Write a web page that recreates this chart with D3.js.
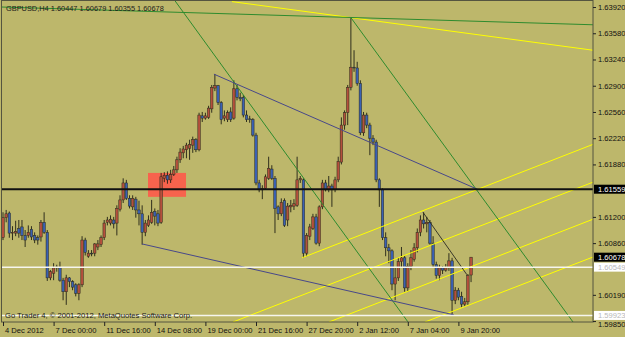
<!DOCTYPE html>
<html>
<head>
<meta charset="utf-8">
<script src="https://cdn.jsdelivr.net/npm/d3@7"></script>
<style>
html, body { margin: 0; padding: 0; background: #BDB76B; }
svg { display: block; }
</style>
</head>
<body>
<svg id="chart" width="625" height="337"></svg>
<script>
'use strict';

// GBPUSD H4, bar 0 = 4 Dec 2012 08:00
const opens = [
  1.6093,1.6119,1.6125,1.6099,1.6099,1.6105,1.6107,1.6096,1.6096,1.6104,
  1.6096,1.6093,1.6094,1.6113,1.6100,1.6041,1.6047,1.6054,1.6054,1.6038,
  1.6023,1.6041,1.6036,1.6032,1.6021,1.6032,1.6090,1.6069,1.6073,1.6073,
  1.6081,1.6084,1.6093,1.6113,1.6112,1.6116,1.6112,1.6130,1.6142,1.6164,
  1.6144,1.6133,1.6143,1.6129,1.6124,1.6100,1.6109,1.6113,1.6127,1.6124,
  1.6113,1.6170,1.6174,1.6168,1.6175,1.6181,1.6194,1.6203,1.6207,1.6209,
  1.6213,1.6220,1.6207,1.6251,1.6248,1.6249,1.6260,1.6287,1.6290,1.6268,
  1.6248,1.6246,1.6256,1.6248,1.6286,1.6275,1.6275,1.6252,1.6247,1.6246,
  1.6226,1.6164,1.6155,1.6157,1.6170,1.6182,1.6170,1.6133,1.6124,1.6141,
  1.6116,1.6133,1.6134,1.6135,1.6168,1.6168,1.6073,1.6095,1.6105,1.6120,
  1.6086,1.6133,1.6164,1.6155,1.6160,1.6155,1.6168,1.6191,1.6239,1.6255,
  1.6288,1.6314,1.6313,1.6293,1.6229,1.6252,1.6239,1.6222,1.6217,1.6168,
  1.6155,1.6093,1.6080,1.6076,1.6033,1.6041,1.6062,1.6067,1.6028,1.6056,
  1.6065,1.6080,1.6100,1.6116,1.6111,1.6113,1.6086,1.6058,1.6044,1.6054,
  1.6051,1.6054,1.6063,1.6012,1.6025,1.6017,1.6007,1.6010,1.60447
];
const highs = [
  1.6126,1.6129,1.6127,1.6108,1.6115,1.6116,1.6116,1.6103,1.6109,1.6108,
  1.6100,1.6096,1.6116,1.6126,1.6103,1.6051,1.6060,1.6058,1.6062,1.6041,
  1.6045,1.6042,1.6038,1.6034,1.6034,1.6095,1.6093,1.6077,1.6077,1.6086,
  1.6090,1.6096,1.6116,1.6120,1.6122,1.6120,1.6135,1.6148,1.6170,1.6168,
  1.6148,1.6148,1.6146,1.6141,1.6135,1.6116,1.6122,1.6142,1.6131,1.6129,
  1.6177,1.6178,1.6179,1.6181,1.6186,1.6198,1.6209,1.6212,1.6216,1.6220,
  1.6224,1.6222,1.6255,1.6256,1.6255,1.6264,1.6291,1.6305,1.6291,1.6270,
  1.6258,1.6258,1.6262,1.6297,1.6291,1.6281,1.6278,1.6258,1.6251,1.6248,
  1.6229,1.6168,1.6161,1.6175,1.6198,1.6187,1.6173,1.6135,1.6144,1.6144,
  1.6138,1.6142,1.6143,1.6198,1.6173,1.6170,1.6099,1.6111,1.6124,1.6124,
  1.6135,1.6168,1.6168,1.6173,1.6163,1.6172,1.6198,1.6249,1.6258,1.6291,
  1.6378,1.6336,1.6321,1.6297,1.6256,1.6255,1.6242,1.6226,1.6220,1.6170,
  1.6157,1.6100,1.6085,1.6078,1.6054,1.6067,1.6081,1.6070,1.6060,1.6077,
  1.6086,1.6105,1.6122,1.6126,1.6120,1.6116,1.6095,1.6062,1.6058,1.6056,
  1.6059,1.6073,1.6067,1.6029,1.6028,1.6023,1.6015,1.6046,1.60679
];
const lows = [
  1.6090,1.6113,1.6093,1.6090,1.6095,1.6093,1.6090,1.6081,1.6093,1.6090,
  1.6086,1.6084,1.6088,1.6098,1.6037,1.6038,1.6038,1.6049,1.6036,1.6012,
  1.6006,1.6029,1.6025,1.6017,1.6012,1.6029,1.6070,1.6067,1.6069,1.6069,
  1.6077,1.6081,1.6090,1.6109,1.6109,1.6105,1.6096,1.6127,1.6138,1.6142,
  1.6131,1.6129,1.6119,1.6109,1.6084,1.6095,1.6107,1.6111,1.6109,1.6108,
  1.6111,1.6165,1.6163,1.6164,1.6173,1.6177,1.6190,1.6196,1.6196,1.6194,
  1.6203,1.6204,1.6205,1.6243,1.6246,1.6247,1.6255,1.6283,1.6265,1.6240,
  1.6244,1.6243,1.6243,1.6246,1.6271,1.6270,1.6249,1.6243,1.6242,1.6224,
  1.6161,1.6152,1.6143,1.6155,1.6168,1.6168,1.6099,1.6116,1.6121,1.6107,
  1.6108,1.6126,1.6129,1.6133,1.6164,1.6067,1.6069,1.6090,1.6103,1.6084,
  1.6082,1.6130,1.6153,1.6152,1.6133,1.6152,1.6165,1.6188,1.6233,1.6239,
  1.6284,1.6308,1.6290,1.6226,1.6225,1.6235,1.6200,1.6213,1.6165,1.6133,
  1.6090,1.6069,1.6060,1.6025,1.6012,1.6037,1.6054,1.6023,1.6023,1.6051,
  1.6062,1.6074,1.6095,1.6105,1.6100,1.6084,1.6054,1.6040,1.6038,1.6046,
  1.6049,1.6050,1.59923,1.6007,1.6012,1.6003,1.6004,1.6006,1.60355
];
const closes = [
  1.6119,1.6124,1.6099,1.6100,1.6101,1.6099,1.6096,1.6090,1.6100,1.6094,
  1.6090,1.6090,1.6113,1.6100,1.6041,1.6049,1.6054,1.6055,1.6038,1.6023,
  1.6041,1.6036,1.6029,1.6021,1.6032,1.6090,1.6074,1.6073,1.6072,1.6085,
  1.6085,1.6093,1.6112,1.6116,1.6117,1.6111,1.6131,1.6142,1.6164,1.6144,
  1.6134,1.6144,1.6129,1.6124,1.6100,1.6112,1.6116,1.6126,1.6121,1.6112,
  1.6172,1.6174,1.6168,1.6175,1.6181,1.6194,1.6204,1.6208,1.6213,1.6214,
  1.6220,1.6207,1.6252,1.6248,1.6251,1.6261,1.6288,1.6290,1.6268,1.6246,
  1.6251,1.6255,1.6246,1.6286,1.6275,1.6273,1.6252,1.6246,1.6246,1.6226,
  1.6164,1.6155,1.6157,1.6172,1.6183,1.6170,1.6131,1.6124,1.6139,1.6109,
  1.6134,1.6135,1.6137,1.6168,1.6170,1.6073,1.6096,1.6107,1.6120,1.6086,
  1.6133,1.6164,1.6155,1.6160,1.6155,1.6168,1.6192,1.6239,1.6255,1.6288,
  1.6314,1.6313,1.6293,1.6229,1.6252,1.6239,1.6222,1.6217,1.6168,1.6155,
  1.6093,1.6080,1.6076,1.6033,1.6041,1.6062,1.6067,1.6028,1.6056,1.6067,
  1.6080,1.6100,1.6116,1.6111,1.6113,1.6086,1.6058,1.6044,1.6054,1.6051,
  1.6054,1.6063,1.6012,1.6025,1.6016,1.6007,1.6010,1.6044,1.60678
];

// time axis: bar index of each label and its text
const timeTicks = [0, 16, 32, 48, 64, 80, 96, 112, 128, 144];
const timeLabels = ['4 Dec 2012', '7 Dec 00:00', '11 Dec 16:00', '14 Dec 08:00', '19 Dec 00:00',
  '21 Dec 16:00', '27 Dec 20:00', '2 Jan 12:00', '7 Jan 04:00', '9 Jan 20:00'];
const priceTicks = [1.6392, 1.6358, 1.6324, 1.6290, 1.6256, 1.6222, 1.6188, 1.6120, 1.6086, 1.6019, 1.5985];

// objects drawn on the chart, as [bar, price] anchors
const levelBlack = 1.61559;
const levelsWhite = [1.60549, 1.59923];
const zone = [[45.85, 1.6177], [57.87, 1.6146]];
const greenLines = [
  [[-0.32, 1.6392], [186.56, 1.6369]],
  [[54.4, 1.6400], [128.06, 1.59838]],
  [[110.04, 1.6378], [180.24, 1.59838]]
];
const yellowLines = [
  [[72.4, 1.6399], [186.56, 1.6336]],
  [[94.55, 1.6067], [186.56, 1.6214]],
  [[72.73, 1.59838], [186.56, 1.6165]],
  [[103.08, 1.59838], [186.56, 1.6117]],
  [[133.44, 1.59838], [186.56, 1.6068]]
];
const blueLines = [
  [[66.7, 1.6305], [149.9, 1.6156]],
  [[43.95, 1.6085], [142.6, 1.59930]]
];
const blackLines = [
  [[132.8, 1.6126], [146.7, 1.6045]]
];

const bars = opens.map((o, i) => ({i: i, o: o, h: highs[i], l: lows[i], c: closes[i]}));
const lastPrice = closes[closes.length - 1];

let plotL = 2, plotR = 593, plotT = 1, plotB = 322;
let x = d3.scaleLinear().domain([0, 186.56]).range([3, plotR]);
let y = d3.scaleLinear().domain([1.59838, 1.63998]).range([plotB, plotT]);

let svg = d3.select('#chart');
let font = '"Liberation Sans", Arial, sans-serif';

svg.append('rect').attr('width', 625).attr('height', 337).style('fill', '#BDB76B');

svg.append('clipPath').attr('id', 'plotClip')
  .append('rect').attr('x', plotL).attr('y', plotT)
  .attr('width', plotR - plotL).attr('height', plotB - plotT);

let plot = svg.append('g').attr('clip-path', 'url(#plotClip)');

// background rectangle
plot.append('rect')
  .attr('x', x(zone[0][0])).attr('y', y(zone[0][1]))
  .attr('width', x(zone[1][0]) - x(zone[0][0]))
  .attr('height', y(zone[1][1]) - y(zone[0][1]))
  .style('fill', '#F7634D');

// candles
let candle = plot.selectAll('.candle').data(bars).enter().append('g').attr('class', 'candle');
candle.append('line')
  .attr('x1', d => x(d.i)).attr('x2', d => x(d.i))
  .attr('y1', d => y(d.h)).attr('y2', d => y(d.l))
  .style('stroke', '#1f1f14').style('stroke-width', 0.9);
candle.append('rect')
  .attr('x', d => x(d.i) - 1.25)
  .attr('y', d => y(Math.max(d.o, d.c)))
  .attr('width', 2.5)
  .attr('height', d => Math.max(0.8, Math.abs(y(d.o) - y(d.c))))
  .style('fill', d => d.c >= d.o ? '#B4503C' : '#3A60B2')
  .style('stroke', '#2a2a1c').style('stroke-width', 0.5);

function drawLines(list, colour, width) {
  plot.selectAll(null).data(list).enter().append('line')
    .attr('x1', d => x(d[0][0])).attr('y1', d => y(d[0][1]))
    .attr('x2', d => x(d[1][0])).attr('y2', d => y(d[1][1]))
    .style('stroke', colour).style('stroke-width', width);
}
drawLines(yellowLines, '#FFFF00', 1);
drawLines(greenLines, '#2E8B2E', 1);
drawLines(blueLines, '#48488A', 1);
drawLines(blackLines, '#2a2a20', 0.9);

// horizontal levels
plot.selectAll('.white').data(levelsWhite).enter().append('line')
  .attr('x1', plotL).attr('x2', plotR)
  .attr('y1', d => y(d)).attr('y2', d => y(d))
  .style('stroke', '#F6F6EE').style('stroke-width', 1.5);
plot.append('line')
  .attr('x1', plotL).attr('x2', plotR)
  .attr('y1', y(levelBlack)).attr('y2', y(levelBlack))
  .style('stroke', '#111111').style('stroke-width', 2);

// frame
svg.append('rect')
  .attr('x', plotL - 0.5).attr('y', plotT - 0.5)
  .attr('width', plotR - plotL + 0.5).attr('height', plotB - plotT + 0.5)
  .style('fill', 'none').style('stroke', '#555540').style('stroke-width', 1);

// price axis
let yAxis = svg.append('g')
  .attr('transform', `translate(${plotR},0)`)
  .call(d3.axisRight(y).tickValues(priceTicks).tickSize(3).tickPadding(2)
    .tickFormat(d => d.toFixed(5)));
yAxis.select('.domain').remove();
yAxis.selectAll('line').style('stroke', '#222');
yAxis.selectAll('text').style('font-family', font).style('font-size', '7.6px').style('fill', '#111');
// the lowest label sits half under the low marker, nudge it below
yAxis.selectAll('.tick').filter(d => d < 1.599).select('text').attr('y', 2.8);

// time axis
let xAxis = svg.append('g')
  .attr('transform', `translate(0,${plotB})`)
  .call(d3.axisBottom(x).tickValues(timeTicks).tickSize(4)
    .tickFormat((d, k) => timeLabels[k]));
xAxis.select('.domain').remove();
xAxis.selectAll('line').style('stroke', '#222');
xAxis.selectAll('text')
  .attr('x', 1.5).attr('y', 5.5).attr('dy', '0.71em')
  .style('text-anchor', 'start')
  .style('font-family', font).style('font-size', '7.6px').style('fill', '#111');

// price markers on the axis
let markers = [
  {v: levelBlack, bg: '#000000', fg: '#FFFFFF'},
  {v: lastPrice, bg: '#000000', fg: '#FFFFFF'},
  {v: levelsWhite[0], bg: '#FFFFFF', fg: '#B8B8B8'},
  {v: levelsWhite[1], bg: '#FFFFFF', fg: '#B8B8B8'}
];
let mk = svg.selectAll('.marker').data(markers).enter().append('g').attr('class', 'marker');
mk.append('rect')
  .attr('x', plotR + 1).attr('y', d => y(d.v) - 4.5)
  .attr('width', 32).attr('height', 9)
  .style('fill', d => d.bg);
mk.append('text')
  .attr('x', plotR + 5).attr('y', d => y(d.v)).attr('dy', '0.35em')
  .style('font-family', font).style('font-size', '7.6px')
  .style('fill', d => d.fg)
  .text(d => d.v.toFixed(5));

// captions
svg.append('text')
  .attr('x', 6).attr('y', 10.5)
  .style('font-family', font).style('font-size', '7.4px').style('fill', '#1a1a1a')
  .text('GBPUSD,H4  ' + [opens, highs, lows, closes].map(a => a[a.length - 1].toFixed(5)).join(' '));
svg.append('text')
  .attr('x', 5).attr('y', 318)
  .style('font-family', font).style('font-size', '7.6px').style('fill', '#1a1a1a')
  .text('Go Trader 4, \u00A9 2001-2012, MetaQuotes Software Corp.');
</script>
</body>
</html>
